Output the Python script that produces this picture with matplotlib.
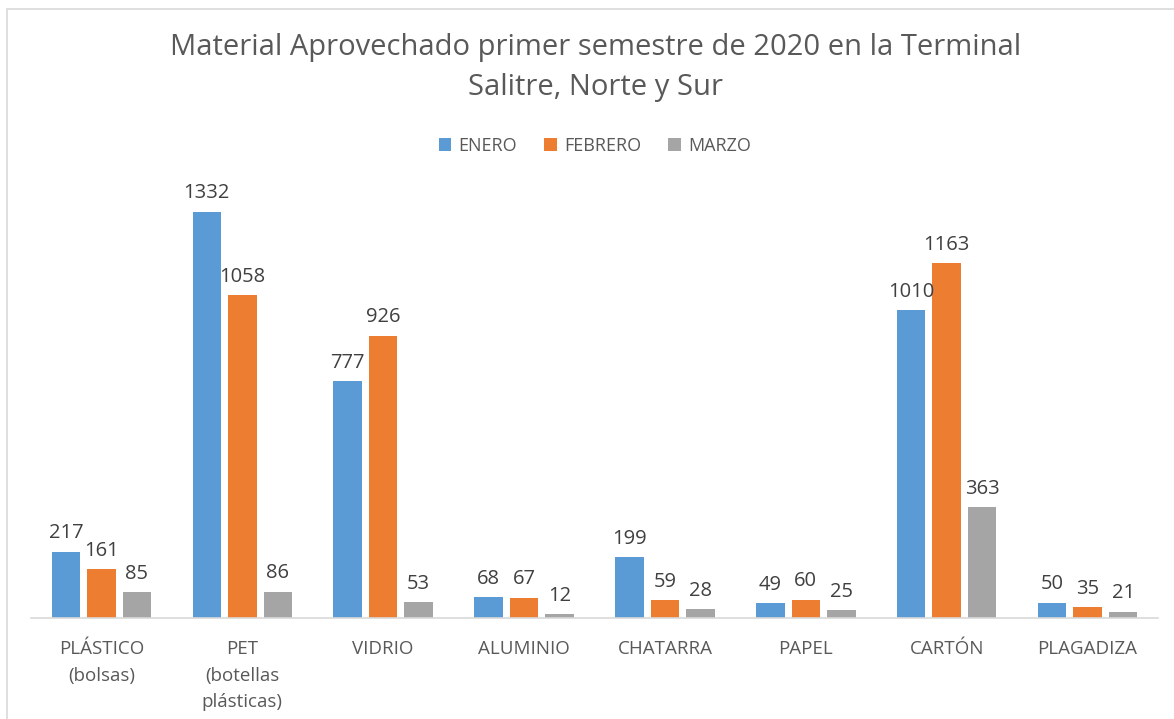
import numpy as np
import matplotlib.pyplot as plt
from matplotlib.patches import Rectangle

categorias = ['PLÁSTICO\n(bolsas)', 'PET\n(botellas\nplásticas)', 'VIDRIO', 'ALUMINIO',
              'CHATARRA', 'PAPEL', 'CARTÓN', 'PLAGADIZA']
enero = [217, 1332, 777, 68, 199, 49, 1010, 50]
febrero = [161, 1058, 926, 67, 59, 60, 1163, 35]
marzo = [85, 86, 53, 12, 28, 25, 363, 21]
series = ['ENERO', 'FEBRERO', 'MARZO']
colores = ['#5B9BD5', '#ED7D31', '#A5A5A5']

plt.rcParams['font.family'] = ['Open Sans', 'DejaVu Sans']

W, H = 1174, 719
fig = plt.figure(figsize=(W / 100, H / 100), dpi=100)
fig.patches.append(Rectangle((7 / W, -0.1), 1.2, 1.1 - 9 / H, transform=fig.transFigure,
                             fill=False, edgecolor='#D9D9D9', linewidth=1.2))

ax = fig.add_axes([31 / W, (H - 618) / H, (1158 - 31) / W, (618 - 191) / H])
x = np.arange(len(categorias))
ancho = 0.202
paso = 0.252
for i, (vals, nombre, c) in enumerate(zip([enero, febrero, marzo], series, colores)):
    barras = ax.bar(x + (i - 1) * paso, vals, ancho, color=c, label=nombre)
    ax.bar_label(barras, padding=6, fontsize=14.5, color='#404040')

ax.set_xlim(-0.5, len(categorias) - 0.5)
ax.set_ylim(0, 1400)
ax.set_yticks([])
ax.set_xticks(x)
ax.set_xticklabels(categorias, fontsize=13.5, color='#595959', linespacing=1.6)
ax.tick_params(axis='x', length=0, pad=16)
for s in ['top', 'right', 'left']:
    ax.spines[s].set_visible(False)
ax.spines['bottom'].set_color('#D9D9D9')
ax.spines['bottom'].set_linewidth(1.2)

fig.text(596 / W, 1 - 47 / H, 'Material Aprovechado primer semestre de 2020 en la Terminal',
         ha='center', va='center', fontsize=21, color='#595959')
fig.text(596 / W, 1 - 88 / H, 'Salitre, Norte y Sur',
         ha='center', va='center', fontsize=21, color='#595959')

ax.legend(loc='center', bbox_to_anchor=(595 / W, 1 - 146 / H), bbox_transform=fig.transFigure,
          ncol=3, frameon=False, fontsize=13, labelcolor='#595959', handlelength=0.7,
          handleheight=0.7, handletextpad=0.4, columnspacing=1.5)

fig.savefig('out.png', dpi=100)
